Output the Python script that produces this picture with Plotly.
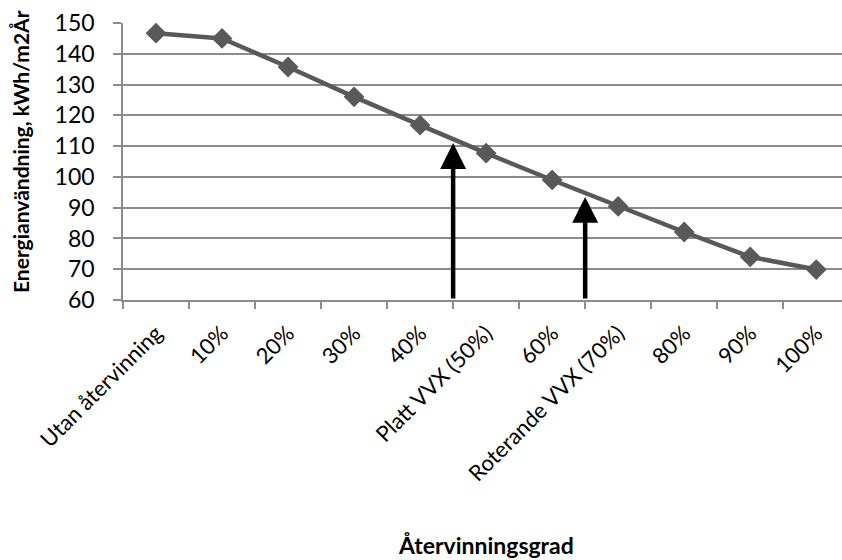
import plotly.graph_objects as go

# Heat recovery levels and the resulting energy use
categories = ["Utan återvinning", "10%", "20%", "30%", "40%", "Platt VVX (50%)",
              "60%", "Roterande VVX (70%)", "80%", "90%", "100%"]
energy = [146.7, 145.0, 135.7, 126.0, 116.8, 107.7, 99.0, 90.4, 82.1, 74.0, 69.9]

# Arrows marking the two exchanger types (category-boundary positions, tip values)
arrow_x = [4.5, 6.5]
arrow_top = [111.0, 93.5]
arrow_base = 60

y_ticks = list(range(60, 151, 10))

FONT = "Lato, 'Open Sans', sans-serif"
GRID = "#8c8c8c"

fig = go.Figure()
fig.add_trace(go.Scatter(
    x=categories, y=energy, mode="lines+markers",
    line=dict(color="#595959", width=4.5),
    marker=dict(symbol="diamond", size=16, color="#595959"),
    showlegend=False, cliponaxis=False,
))

for xa, yt in zip(arrow_x, arrow_top):
    fig.add_annotation(
        x=xa, y=yt, ax=xa, ay=arrow_base, xref="x", yref="y",
        axref="x", ayref="y", showarrow=True, text="",
        arrowhead=2, arrowsize=1.15, arrowwidth=4.5, arrowcolor="black",
    )

fig.update_layout(
    width=842, height=560,
    margin=dict(l=123, r=0, t=23, b=260),
    paper_bgcolor="white", plot_bgcolor="white",
    font=dict(family=FONT, size=22, color="black"),
    xaxis=dict(
        type="category", range=[-0.5, 10.39],
        tickson="boundaries", ticks="outside", ticklen=7, tickwidth=1.5,
        tickcolor=GRID, showgrid=False, showline=True, linecolor=GRID,
        linewidth=1.5, tickangle=-45, tickfont=dict(size=22),
        ticklabelstandoff=10,
    ),
    yaxis=dict(
        range=[60, 150], tickvals=y_ticks, showgrid=True, gridcolor=GRID,
        gridwidth=1.5, showline=True, linecolor=GRID, linewidth=1.5,
        ticks="outside", ticklen=8, tickwidth=1.5, tickcolor=GRID,
        tickfont=dict(size=23), zeroline=False, ticklabelstandoff=14,
    ),
)

fig.add_annotation(
    text="<b>Energianvändning, kWh/m2År</b>", textangle=-90,
    xref="paper", yref="paper", x=(20 - 123) / 719, y=(300 - 152) / 277,
    xanchor="center", yanchor="middle", showarrow=False, font=dict(size=21),
)
fig.add_annotation(
    text="<b>Återvinningsgrad</b>", xref="paper", yref="paper",
    x=(486 - 123) / 719, y=-(545 - 300) / 277, xanchor="center",
    yanchor="middle", showarrow=False, font=dict(size=23),
)

fig.write_html("out.html")
